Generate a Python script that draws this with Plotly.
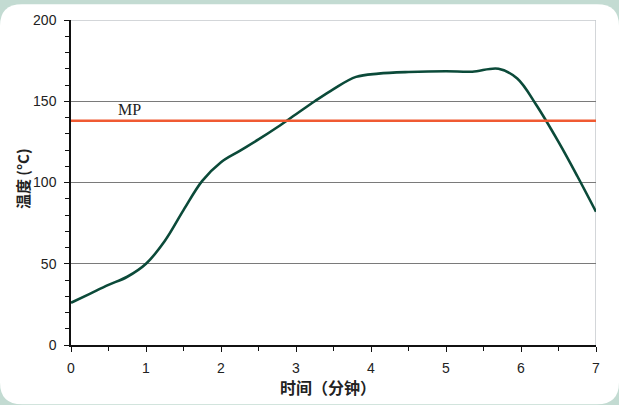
import plotly.graph_objects as go

# Data
time_min = [0, 0.25, 0.5, 0.75, 1.0, 1.25, 1.5, 1.75, 2.0, 2.25, 2.5, 2.75, 3.0, 3.25, 3.5, 3.8, 4.1, 4.5, 5.0, 5.35, 5.7, 5.95, 6.2, 6.5, 6.75, 7.0]
temp_c = [26, 31.5, 37, 42, 50, 64, 83, 101, 112.5, 119.5, 126.5, 134, 142, 150, 157.5, 165, 167, 168, 168.5, 168.2, 170, 164, 148, 125, 104, 82]
mp_value = 138
mp_label = "MP"
x_title = "时间（分钟）"
y_title = "温度 (°C)"

W, H = 619, 405
L, R, T, B = 71, 23, 16, 60
PW, PH = W - L - R, H - T - B

def px(xp):
    return (xp - L) / PW

def py(yp):
    return (H - B - yp) / PH

fig = go.Figure()

fig.add_trace(go.Scatter(
    x=time_min, y=temp_c, mode="lines",
    line=dict(color="#0b4a39", width=2.6, shape="spline", smoothing=1.0),
    hoverinfo="skip", showlegend=False,
))

fig.add_trace(go.Scatter(
    x=[0, 7], y=[mp_value, mp_value], mode="lines",
    line=dict(color="#f05a32", width=2.4),
    hoverinfo="skip", showlegend=False,
))

# background: mint with white rounded panel
r = 22
x0, x1 = px(0), px(W)
y0, y1 = py(H), py(0)
rx, ry = r / PW, r / PH
path = (f"M {x0+rx},{y1} L {x1-rx},{y1} Q {x1},{y1} {x1},{y1-ry} "
        f"L {x1},{y0+ry} Q {x1},{y0} {x1-rx},{y0} L {x0+rx},{y0} "
        f"Q {x0},{y0} {x0},{y0+ry} L {x0},{y1-ry} Q {x0},{y1} {x0+rx},{y1} Z")
shapes = [
    dict(type="path", xref="paper", yref="paper", path=path,
         fillcolor="white", line=dict(width=0), layer="below"),
    dict(type="line", xref="paper", yref="y", x0=0, x1=1, y0=200, y1=200,
         line=dict(color="#c4c8cc", width=1.5), layer="above"),
    dict(type="line", xref="x", yref="paper", x0=7, x1=7, y0=0, y1=1,
         line=dict(color="#c4c8cc", width=1.5), layer="below"),
]

annotations = [
    dict(text=mp_label, x=px(129), y=mp_value, xref="paper", yref="y",
         xanchor="center", yanchor="bottom", yshift=1, showarrow=False,
         font=dict(family="Liberation Serif", size=16, color="#222")),
    dict(text=f"<b>{x_title}</b>", x=px(328), y=py(388), xref="paper", yref="paper",
         xanchor="center", yanchor="middle", showarrow=False,
         font=dict(family="Noto Sans CJK SC", size=16, color="#222")),
    dict(text=f"<b>{y_title}</b>", x=px(22), y=py(177), xref="paper", yref="paper",
         xanchor="center", yanchor="middle", showarrow=False, textangle=-90,
         font=dict(family="Noto Sans CJK SC", size=15, color="#222")),
]

fig.update_layout(
    width=W, height=H,
    margin=dict(l=L, r=R, t=T, b=B, pad=0),
    paper_bgcolor="#c3dbd2",
    plot_bgcolor="rgba(0,0,0,0)",
    shapes=shapes,
    annotations=annotations,
    font=dict(family="Liberation Sans", size=14, color="#222"),
    xaxis=dict(
        range=[0, 7], tickmode="linear", tick0=0, dtick=1,
        showgrid=False, zeroline=False,
        showline=True, linecolor="#111", linewidth=1.5,
        ticks="outside", ticklen=5, tickwidth=1.2, tickcolor="#111",
        ticklabelstandoff=4,
        minor=dict(dtick=0.5, ticks="outside", ticklen=4, tickwidth=1.2, tickcolor="#111", showgrid=False),
        tickfont=dict(family="Liberation Sans", size=14, color="#222"),
        fixedrange=True,
    ),
    yaxis=dict(
        range=[0, 200], tickmode="linear", tick0=0, dtick=50,
        showgrid=True, gridcolor="#7a7a7a", gridwidth=1,
        zeroline=False,
        showline=True, linecolor="#111", linewidth=1.5,
        ticks="outside", ticklen=5, tickwidth=1.2, tickcolor="#111",
        ticklabelstandoff=5,
        minor=dict(dtick=10, ticks="outside", ticklen=4, tickwidth=1.2, tickcolor="#111", showgrid=False),
        tickfont=dict(family="Liberation Sans", size=14, color="#222"),
        fixedrange=True,
    ),
)

fig.write_html(
    "out.html",
    config={"displayModeBar": False},
    post_script="document.body.style.margin='0';document.body.style.padding='0';document.body.style.overflow='hidden';",
)
